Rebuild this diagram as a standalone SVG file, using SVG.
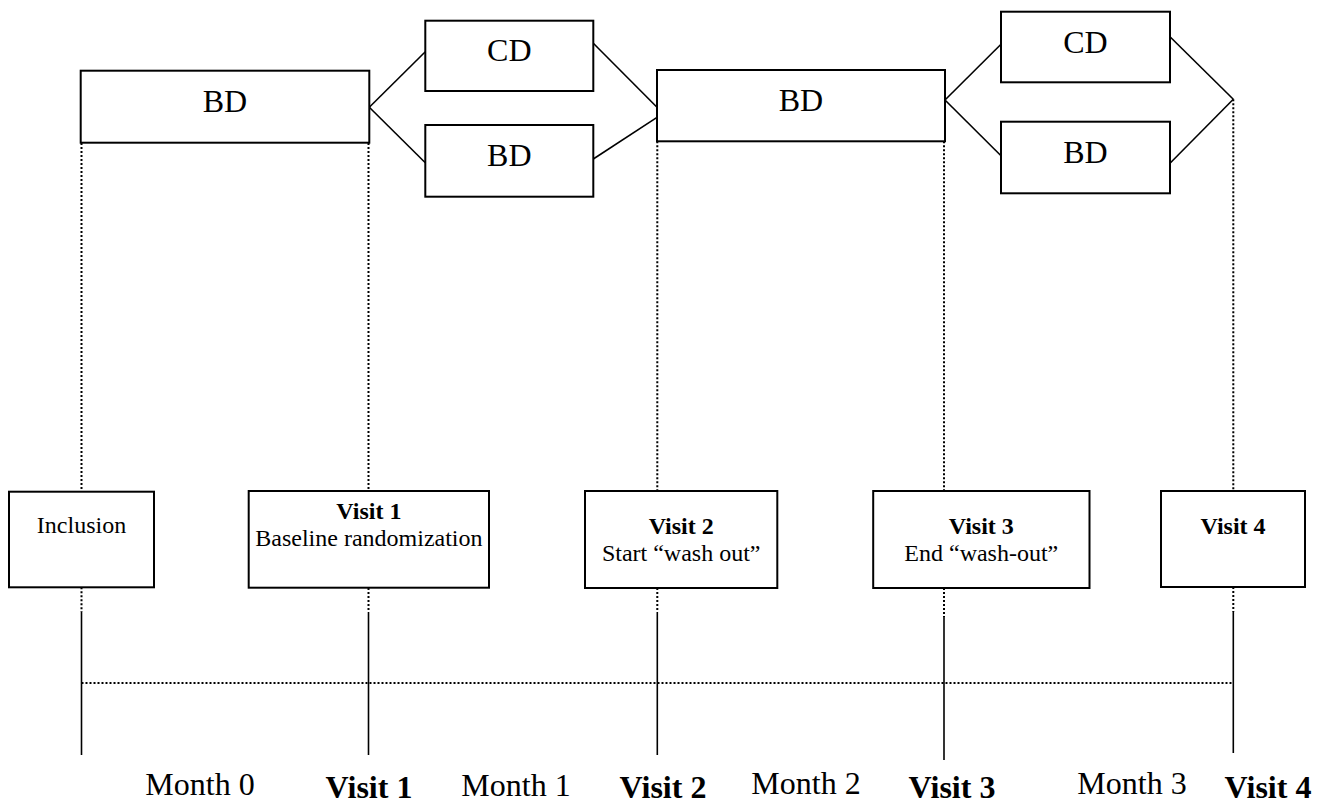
<svg xmlns="http://www.w3.org/2000/svg" width="1317" height="805" viewBox="0 0 1317 805">
<style>
.box{fill:#fff;stroke:#000;stroke-width:2}
.ln{stroke:#000;stroke-width:1.6;fill:none}
.dot{stroke:#000;stroke-width:2;stroke-dasharray:2 2;fill:none}
.big{font-family:"Liberation Serif","Times New Roman",serif;font-size:32px;text-anchor:middle;fill:#000}
.sm{font-family:"Liberation Serif","Times New Roman",serif;font-size:24px;text-anchor:middle;fill:#000}
.b{font-weight:bold}
.axis{font-family:"Liberation Serif","Times New Roman",serif;font-size:32px;text-anchor:middle;fill:#000}
</style>
<rect width="1317" height="805" fill="#fff"/>
<g id="connectors">
<line class="ln" x1="369.3" y1="107.3" x2="425.3" y2="51.7"/>
<line class="ln" x1="369.3" y1="107.3" x2="425.3" y2="162.7"/>
<line class="ln" x1="593.3" y1="43.3" x2="657" y2="107.3"/>
<line class="ln" x1="593.3" y1="159" x2="657" y2="117.3"/>
<line class="ln" x1="945" y1="100" x2="1001" y2="44.3"/>
<line class="ln" x1="945" y1="100" x2="1001" y2="155.7"/>
<line class="ln" x1="1170" y1="36.7" x2="1233.3" y2="99.3"/>
<line class="ln" x1="1170" y1="163.3" x2="1233.3" y2="99.3"/>
<line class="dot" x1="81.5" y1="143" x2="81.5" y2="491.7"/>
<line class="dot" x1="81.5" y1="587.3" x2="81.5" y2="612"/>
<line class="dot" x1="368.5" y1="143" x2="368.5" y2="491"/>
<line class="dot" x1="368.5" y1="588" x2="368.5" y2="612"/>
<line class="dot" x1="657.3" y1="141.3" x2="657.3" y2="491"/>
<line class="dot" x1="657.3" y1="588" x2="657.3" y2="612"/>
<line class="dot" x1="944" y1="141.3" x2="944" y2="491"/>
<line class="dot" x1="944" y1="588" x2="944" y2="617"/>
<line class="dot" x1="1233.3" y1="99.3" x2="1233.3" y2="491"/>
<line class="dot" x1="1233.3" y1="587" x2="1233.3" y2="612"/>
<line class="ln" x1="81.5" y1="612" x2="81.5" y2="755"/>
<line class="ln" x1="368.5" y1="612" x2="368.5" y2="755"/>
<line class="ln" x1="657.3" y1="612" x2="657.3" y2="755"/>
<line class="ln" x1="944" y1="617" x2="944" y2="760"/>
<line class="ln" x1="1233.3" y1="612" x2="1233.3" y2="753"/>
<line class="dot" x1="81.5" y1="683" x2="1232" y2="683"/>
</g>
<g id="bd1"><rect class="box" x="80.7" y="70.7" width="288.6" height="72"/><text class="big" x="225" y="111.7">BD</text></g>
<g id="cd1"><rect class="box" x="425.3" y="20.7" width="168" height="70.3"/><text class="big" x="509.3" y="61">CD</text></g>
<g id="bd1b"><rect class="box" x="425.3" y="125" width="168" height="71.7"/><text class="big" x="509.3" y="165.7">BD</text></g>
<g id="bd2"><rect class="box" x="657" y="70" width="288" height="71.3"/><text class="big" x="801" y="110.5">BD</text></g>
<g id="cd2"><rect class="box" x="1001" y="11.7" width="169" height="70.6"/><text class="big" x="1085.5" y="52.7">CD</text></g>
<g id="bd2b"><rect class="box" x="1001" y="121.7" width="169" height="71.6"/><text class="big" x="1085.5" y="163.3">BD</text></g>
<g id="inclusion"><rect class="box" x="9" y="491.7" width="145" height="95.6"/><text class="sm" x="81.5" y="533">Inclusion</text></g>
<g id="visit1"><rect class="box" x="248.7" y="491" width="240.3" height="96.7"/><text class="sm b" x="368.9" y="519">Visit 1</text><text class="sm" x="368.9" y="546">Baseline randomization</text></g>
<g id="visit2"><rect class="box" x="585" y="491" width="192.3" height="97"/><text class="sm b" x="681.2" y="534">Visit 2</text><text class="sm" x="681.2" y="561">Start “wash out”</text></g>
<g id="visit3"><rect class="box" x="873.2" y="491" width="216.3" height="97"/><text class="sm b" x="981.3" y="534">Visit 3</text><text class="sm" x="981.3" y="561">End “wash-out”</text></g>
<g id="visit4"><rect class="box" x="1161" y="491" width="144" height="96"/><text class="sm b" x="1233" y="534">Visit 4</text></g>
<g id="axis-labels">
<text class="axis" x="200" y="795">Month 0</text>
<text class="axis b" x="369" y="798">Visit 1</text>
<text class="axis" x="516" y="796">Month 1</text>
<text class="axis b" x="663" y="798">Visit 2</text>
<text class="axis" x="806" y="794">Month 2</text>
<text class="axis b" x="952" y="798">Visit 3</text>
<text class="axis" x="1132" y="794">Month 3</text>
<text class="axis b" x="1268" y="798">Visit 4</text>
</g>
</svg>
